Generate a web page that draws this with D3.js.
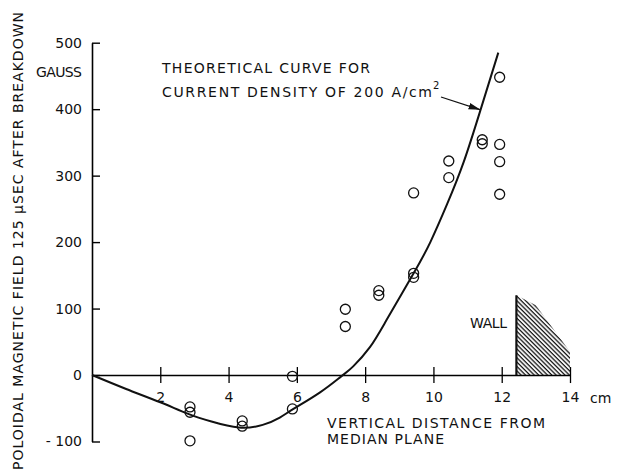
<!DOCTYPE html>
<head>
    <meta charset="utf-8" />
    <title>Poloidal field</title>
    <script src="https://d3js.org/d3.v7.min.js"></script>
    <style>
        body { margin: 0; background: #fff; }
        svg { display: block; }
        text { font-family: "DejaVu Sans", sans-serif; font-size: 14px; fill: #111; }
    </style>
</head>
<body>
<svg width="617" height="470"></svg>
<script>
    // measured points (cm, gauss)
    let pointX = [2.87, 2.87, 2.87, 4.4, 4.4, 5.87, 5.87, 7.42, 7.42, 8.4, 8.4,
                  9.42, 9.42, 9.42, 10.45, 10.45, 11.43, 11.43, 11.94, 11.94, 11.94, 11.94];
    let pointY = [-48, -56, -99, -69, -77, -2, -51, 99, 73, 127, 120,
                  153, 147, 274, 322, 297, 354, 348, 448, 347, 321, 272];

    // theoretical curve
    let curveX = [0, 1, 2, 2.8, 3.5, 4.3, 5, 5.5, 5.9, 6.68, 7.3, 7.65, 8.14, 8.63, 9.42, 9.91, 10.4, 10.89, 11.38, 11.9];
    let curveY = [0, -21, -41, -58, -70, -79, -75, -64, -51, -26, -2, 13, 42, 83, 153, 200, 257, 321, 399, 485];

    let xTicks = [2, 4, 6, 8, 10, 12, 14];
    let yTicks = [-100, 0, 100, 200, 300, 400, 500];
    let yTickLabels = ["- 100", "0", "100", "200", "300", "400", "500"];

    // wall outline (cm, gauss)
    let wallX = [12.43, 12.43, 13.0, 14, 14];
    let wallY = [0, 120, 105, 35, 0];

    let svg = d3.select("svg");

    let x = d3.scaleLinear().domain([0, 14]).range([92, 570]);
    let y = d3.scaleLinear().domain([-100, 500]).range([441.5, 42.7]);

    // hatch pattern for the wall
    let defs = svg.append("defs");
    defs.append("pattern")
        .attr("id", "hatch")
        .attr("patternUnits", "userSpaceOnUse")
        .attr("width", 3.1).attr("height", 6)
        .attr("patternTransform", "rotate(-45)")
        .append("line")
        .attr("x1", 1).attr("y1", 0).attr("x2", 1).attr("y2", 6)
        .attr("stroke", "#111").attr("stroke-width", 1.3);
    defs.append("marker")
        .attr("id", "arrow")
        .attr("viewBox", "0 0 10 10")
        .attr("refX", 10).attr("refY", 5)
        .attr("markerWidth", 12).attr("markerHeight", 12)
        .attr("markerUnits", "userSpaceOnUse")
        .attr("orient", "auto")
        .append("path").attr("d", "M0,2.2 L10,5 L0,7.8 Z").attr("fill", "#111");

    // y axis
    let yAxis = d3.axisLeft(y)
        .tickValues(yTicks)
        .tickFormat((d, i) => yTickLabels[i])
        .tickSize(-8)
        .tickSizeOuter(0)
        .tickPadding(10);
    svg.append("g")
        .attr("transform", "translate(" + x(0) + ",0)")
        .call(yAxis)
        .call(g => g.select(".domain").attr("stroke-width", 1.6))
        .call(g => g.selectAll(".tick line").attr("stroke-width", 1.4))
        .call(g => g.selectAll("text").style("font-size", "14px").attr("fill", "#111"));

    // x axis, ticks crossing the line
    let xAxis = d3.axisBottom(x)
        .tickValues(xTicks)
        .tickSize(8)
        .tickSizeOuter(0);
    svg.append("g")
        .attr("transform", "translate(0," + y(0) + ")")
        .call(xAxis)
        .call(g => g.select(".domain").attr("stroke-width", 1.4))
        .call(g => g.selectAll(".tick line").attr("y1", -8).attr("y2", 8).attr("stroke-width", 1.3))
        .call(g => g.selectAll("text").attr("y", 27).attr("dy", null)
            .style("font-size", "14px").attr("fill", "#111"));

    svg.append("text").attr("x", 590).attr("y", y(0) + 28).text("cm");

    // wall
    let wallPts = wallX.map((d, i) => [x(d), y(wallY[i])]);
    svg.append("path")
        .attr("d", "M" + wallPts.join("L") + "Z")
        .attr("fill", "url(#hatch)");
    svg.append("line")
        .attr("x1", x(wallX[0])).attr("y1", y(wallY[0]))
        .attr("x2", x(wallX[1])).attr("y2", y(wallY[1]))
        .attr("stroke", "#111").attr("stroke-width", 2.2);
    svg.append("text").attr("x", 470).attr("y", 328).attr("textLength", 37).text("WALL");

    // theoretical curve
    let line = d3.line()
        .x(d => x(d[0]))
        .y(d => y(d[1]))
        .curve(d3.curveNatural);
    svg.append("path")
        .datum(curveX.map((d, i) => [d, curveY[i]]))
        .attr("d", line)
        .attr("fill", "none")
        .attr("stroke", "#111")
        .attr("stroke-width", 2);

    // measured points
    svg.selectAll("circle.pt")
        .data(pointX.map((d, i) => [d, pointY[i]]))
        .enter().append("circle")
        .attr("class", "pt")
        .attr("cx", d => x(d[0]))
        .attr("cy", d => y(d[1]))
        .attr("r", 5)
        .attr("fill", "none")
        .attr("stroke", "#111")
        .attr("stroke-width", 1.3);

    // annotation
    svg.append("text").attr("x", 162).attr("y", 73).attr("textLength", 208).text("THEORETICAL CURVE FOR");
    svg.append("text").attr("x", 162).attr("y", 97).attr("textLength", 270).text("CURRENT DENSITY OF 200 A/cm");
    svg.append("text").attr("x", 433).attr("y", 89).style("font-size", "10px").text("2");
    svg.append("line")
        .attr("x1", 441).attr("y1", 97)
        .attr("x2", x(11.38)).attr("y2", y(399))
        .attr("stroke", "#111").attr("stroke-width", 1.3)
        .attr("marker-end", "url(#arrow)");

    // axis titles
    svg.append("text").attr("x", 82).attr("y", 77).attr("text-anchor", "end")
        .attr("textLength", 46).text("GAUSS");
    svg.append("text").attr("x", 327).attr("y", 428).attr("textLength", 218).text("VERTICAL DISTANCE FROM");
    svg.append("text").attr("x", 327).attr("y", 444).attr("textLength", 117).text("MEDIAN PLANE");
    svg.append("text")
        .attr("transform", "translate(23,241) rotate(-90)")
        .attr("text-anchor", "middle")
        .attr("textLength", 458)
        .text("POLOIDAL MAGNETIC FIELD 125 \u00b5SEC AFTER BREAKDOWN");
</script>
</body>
